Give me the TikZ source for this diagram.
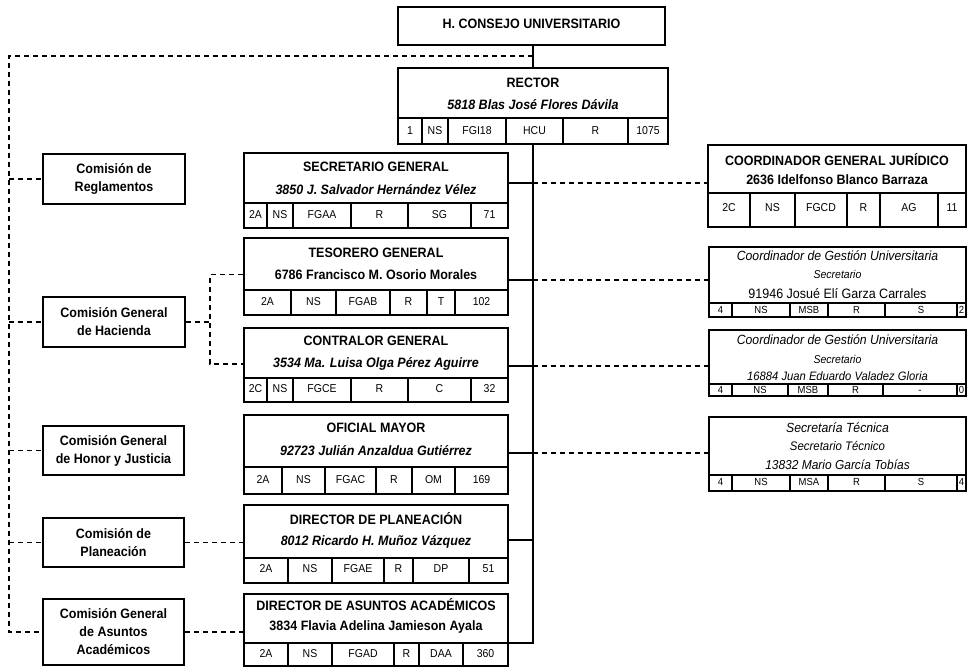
\documentclass[tikz,border=0pt]{standalone}
\usepackage{fontspec}
\setmainfont{Liberation Sans}[FakeStretch=0.92]
\usetikzlibrary{fit}
\newcommand\cellrow[5][cell]{%
  \draw[rule] (#2.west |- 0,#3) -- (#2.east |- 0,#3);
  \foreach \a/\b/\tx in {#5} {%
    \draw[rule] (\b,#3) -- (\b,0 |- #2.south);
    \node[#1] (#2-\b) at ({(\a+\b)/2},#4) {\tx};
  }%
}
\begin{document}
\begin{tikzpicture}[x=1pt,y=-1pt,
  thickbox/.style={draw, line width=2.6pt, inner sep=0pt},
  thinbox/.style={draw, line width=1.3pt, inner sep=0pt},
  ttl/.style={font=\fontsize{13.6}{15}\selectfont\bfseries, inner sep=0pt, anchor=mid},
  nmi/.style={font=\fontsize{13.6}{15}\selectfont\bfseries\itshape, inner sep=0pt, anchor=mid},
  nmb/.style={font=\fontsize{13.6}{15}\selectfont\bfseries, inner sep=0pt, anchor=mid},
  com/.style={font=\fontsize{13.6}{18}\selectfont\bfseries, inner sep=0pt, align=center},
  cell/.style={font=\fontsize{11.4}{13}\selectfont, inner sep=0pt, anchor=mid},
  scell/.style={font=\fontsize{10.3}{12}\selectfont, inner sep=0pt, anchor=mid},
  rti/.style={font=\fontsize{13.3}{15}\selectfont\itshape, inner sep=0pt, anchor=mid},
  rsub/.style={font=\fontsize{11.4}{13}\selectfont\itshape, inner sep=0pt, anchor=mid},
  rule/.style={line width=1.1pt},
  dashline/.style={line width=1.2pt, dash pattern=on 5pt off 4pt},
  solidline/.style={line width=1.2pt}]
\useasboundingbox (0,0) rectangle (968,668);
\fill[white] (0,0) rectangle (968,668);

% ---- central column ----
\node[thickbox, fit={(398,7) (665,45)}] (hcu) {};
\node[ttl] (hcut) at (531.5,26) {H. CONSEJO UNIVERSITARIO};

\node[thickbox, fit={(398,68) (668,144)}] (rector) {};
\node[ttl] (rectort) at (533,85) {RECTOR};
\node[nmi] (rectorn) at (533,107) {5818 Blas José Flores Dávila};
\cellrow{rector}{118}{132}{398/422/1, 422/448/NS, 448/506/FGI18, 506/563/HCU, 563/628/R, 628/668/1075}

\node[thickbox, fit={(244,153) (508,228)}] (sg) {};
\node[ttl] (sgt) at (376,169) {SECRETARIO GENERAL};
\node[nmi] (sgn) at (376,192) {3850 J. Salvador Hernández Vélez};
\cellrow{sg}{203}{216}{244/267/2A, 267/293/NS, 293/351/FGAA, 351/408/R, 408/471/SG, 471/508/71}

\node[thickbox, fit={(244,238) (508,315)}] (tes) {};
\node[ttl] (test) at (376,255) {TESORERO GENERAL};
\node[nmb] (tesn) at (376,277) {6786 Francisco M. Osorio Morales};
\cellrow{tes}{290}{303}{244/291/2A, 291/336/NS, 336/390/FGAB, 390/427/R, 427/455/T, 455/508/102}

\node[thickbox, fit={(244,328) (508,402)}] (con) {};
\node[ttl] (cont) at (376,343) {CONTRALOR GENERAL};
\node[nmi] (conn) at (376,365) {3534 Ma. Luisa Olga Pérez Aguirre};
\cellrow{con}{378}{390}{244/267/2C, 267/293/NS, 293/351/FGCE, 351/408/R, 408/471/C, 471/508/32}

\node[thickbox, fit={(244,415) (508,494)}] (om) {};
\node[ttl] (omt) at (376,430) {OFICIAL MAYOR};
\node[nmi] (omn) at (376,453) {92723 Julián Anzaldua Gutiérrez};
\cellrow{om}{467}{481}{244/282/2A, 282/325/NS, 325/376/FGAC, 376/412/R, 412/455/OM, 455/508/169}

\node[thickbox, fit={(244,505) (508,583)}] (dp) {};
\node[ttl] (dpt) at (376,522) {DIRECTOR DE PLANEACIÓN};
\node[nmi] (dpn) at (376,543) {8012 Ricardo H. Muñoz Vázquez};
\cellrow{dp}{558}{570}{244/288/2A, 288/332/NS, 332/384/FGAE, 384/413/R, 413/469/DP, 469/508/51}

\node[thickbox, fit={(244,594) (508,666)}] (daa) {};
\node[ttl] (daat) at (376,608) {DIRECTOR DE ASUNTOS ACADÉMICOS};
\node[nmb] (daan) at (376,628) {3834 Flavia Adelina Jamieson Ayala};
\cellrow{daa}{643}{655}{244/288/2A, 288/332/NS, 332/394/FGAD, 394/419/R, 419/463/DAA, 463/508/360}

% ---- right column ----
\node[thickbox, fit={(708,145) (966,227)}] (cgj) {};
\node[ttl] (cgjt) at (837,163) {COORDINADOR GENERAL JURÍDICO};
\node[nmb] (cgjn) at (837,182) {2636 Idelfonso Blanco Barraza};
\cellrow{cgj}{193}{209}{708/750/2C, 750/795/NS, 795/847/FGCD, 847/880/R, 880/938/AG, 938/966/11}

\node[thinbox, fit={(709,247) (966,317)}] (cgu1) {};
\node[rti] (cgu1t) at (837.5,258) {Coordinador de Gestión Universitaria};
\node[rsub] (cgu1s) at (837.5,276) {Secretario};
\node[font=\fontsize{13.6}{15}\selectfont, inner sep=0pt, anchor=mid] (cgu1n) at (837.5,296) {91946 Josué Elí Garza Carrales};
\cellrow[scell]{cgu1}{303}{310.5}{709/732/4, 732/790/NS, 790/828/MSB, 828/885/R, 885/957/S, 957/966/2}

\node[thinbox, fit={(709,330) (966,396)}] (cgu2) {};
\node[rti] (cgu2t) at (837.5,342) {Coordinador de Gestión Universitaria};
\node[rsub] (cgu2s) at (837.5,361) {Secretario};
\node[font=\fontsize{12.2}{14}\selectfont\itshape, inner sep=0pt, anchor=mid] (cgu2n) at (837.5,378) {16884 Juan Eduardo Valadez Gloria};
\cellrow[scell]{cgu2}{384}{390.5}{709/732/4, 732/788/NS, 788/828/MSB, 828/883/R, 883/957/-, 957/966/0}

\node[thinbox, fit={(709,417) (966,491)}] (st) {};
\node[rti] (stt) at (837.5,430) {Secretaría Técnica};
\node[font=\fontsize{12.4}{14}\selectfont\itshape, inner sep=0pt, anchor=mid] (sts) at (837.5,448) {Secretario Técnico};
\node[font=\fontsize{13}{15}\selectfont\itshape, inner sep=0pt, anchor=mid] (stn) at (837.5,467) {13832 Mario García Tobías};
\cellrow[scell]{st}{475}{483}{709/732/4, 732/790/NS, 790/828/MSA, 828/885/R, 885/957/S, 957/966/4}

% ---- left column (commissions) ----
\node[thickbox, fit={(43,154) (185,204)}] (reg) {};
\node[com] (regt) at (reg.center) {Comisión de\\Reglamentos};
\node[thickbox, fit={(43,297) (185,347)}] (hac) {};
\node[com] (hact) at (hac.center) {Comisión General\\de Hacienda};
\node[thickbox, fit={(43,426) (184,475)}] (hyj) {};
\node[com] (hyjt) at (hyj.center) {Comisión General\\de Honor y Justicia};
\node[thickbox, fit={(43,518) (184,567)}] (pla) {};
\node[com] (plat) at (pla.center) {Comisión de\\Planeación};
\node[thickbox, fit={(43,599) (184,665)}] (aa) {};
\node[com] (aat) at (aa.center) {Comisión General\\de Asuntos\\Académicos};

% ---- trunk ----
\coordinate (j0) at (533,56);
\coordinate (j1) at (533,183);
\coordinate (j2) at (533,280);
\coordinate (j3) at (533,366);
\coordinate (j4) at (533,453);
\coordinate (j5) at (533,540);
\coordinate (j6) at (533,643);
\coordinate (l0) at (9,56);
\coordinate (hj) at (210,322);

\draw[solidline] (rector.north |- hcu.south) -- (rector.north);
\draw[solidline] (rector.south) -- (j6) -- (j6 -| daa.east);
\draw[solidline] (sg.east |- j1) -- (j1);
\draw[solidline] (tes.east |- j2) -- (j2);
\draw[solidline] (con.east |- j3) -- (j3);
\draw[solidline] (om.east |- j4) -- (j4);
\draw[solidline] (dp.east |- j5) -- (j5);

\draw[dashline] (j1) -- (j1 -| cgj.west);
\draw[dashline] (j2) -- (j2 -| cgu1.west);
\draw[dashline] (j3) -- (j3 -| cgu2.west);
\draw[dashline] (j4) -- (j4 -| st.west);

\draw[dashline] (j0) -- (l0) |- (aa.west);
\draw[dashline] (l0 |- reg.west) -- (reg.west);
\draw[dashline] (l0 |- hac.west) -- (hac.west);
\draw[dashline] (l0 |- hyj.west) -- (hyj.west);
\draw[dashline] (l0 |- pla.west) -- (pla.west);

\draw[dashline] (hac.east) -- (hj);
\draw[dashline] (tes.west |- tesn) -| (hj) |- (con.west |- conn);
\draw[dashline] (pla.east) -- (pla.east -| dp.west);
\draw[dashline] (aa.east) -- (aa.east -| daa.west);
\end{tikzpicture}
\end{document}
